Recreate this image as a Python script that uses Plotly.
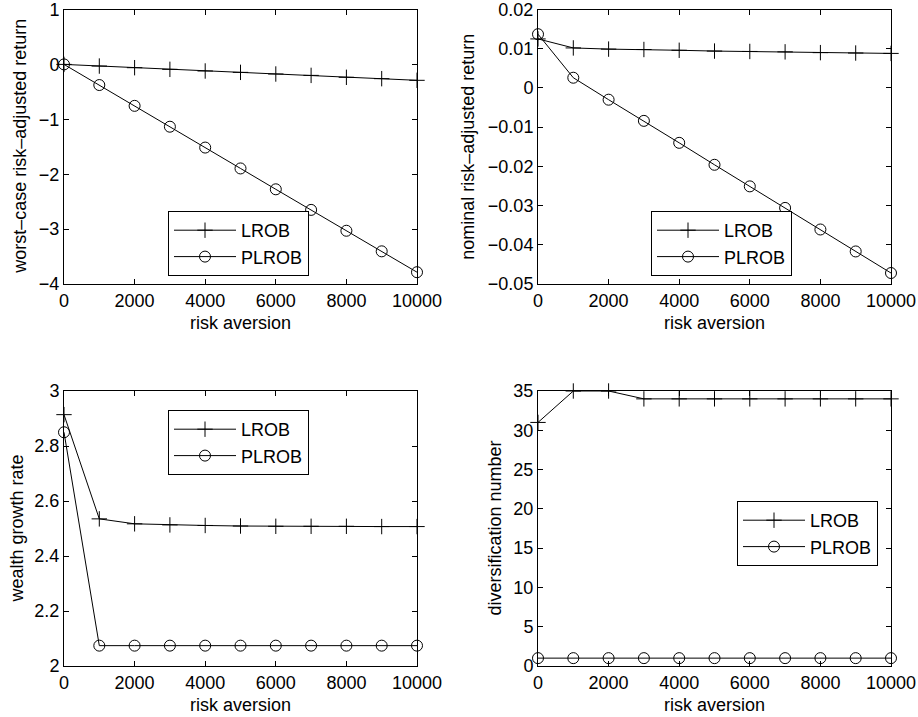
import plotly.graph_objects as go

risk_aversion = [0, 1000, 2000, 3000, 4000, 5000, 6000, 7000, 8000, 9000, 10000]

worst_lrob = [0, -0.03, -0.06, -0.09, -0.12, -0.145, -0.175, -0.20, -0.235, -0.26, -0.29]
worst_plrob = [0, -0.376, -0.755, -1.135, -1.515, -1.895, -2.275, -2.65, -3.03, -3.405, -3.785]

nominal_lrob = [0.0125, 0.0102, 0.0099, 0.0098, 0.0096, 0.0094, 0.0093, 0.0092, 0.0090, 0.0089, 0.0088]
nominal_plrob = [0.0137, 0.0026, -0.0030, -0.0084, -0.0140, -0.0196, -0.0251, -0.0306, -0.0361, -0.0417, -0.0472]

growth_lrob = [2.914, 2.535, 2.517, 2.513, 2.511, 2.509, 2.508, 2.508, 2.508, 2.507, 2.507]
growth_plrob = [2.85, 2.074, 2.074, 2.074, 2.074, 2.074, 2.074, 2.074, 2.074, 2.074, 2.074]

divers_lrob = [31, 35, 35, 34, 34, 34, 34, 34, 34, 34, 34]
divers_plrob = [1, 1, 1, 1, 1, 1, 1, 1, 1, 1, 1]

y_titles = ["worst–case risk–adjusted return", "nominal risk–adjusted return",
            "wealth growth rate", "diversification number"]
x_title = "risk aversion"

FONT = "Liberation Sans, Arial, sans-serif"
W, H = 918, 717
fig = go.Figure()

panels = [
    (worst_lrob, worst_plrob, [-4, 1], 1),
    (nominal_lrob, nominal_plrob, [-0.05, 0.02], 0.01),
    (growth_lrob, growth_plrob, [2, 3], 0.2),
    (divers_lrob, divers_plrob, [0, 35], 5),
]

xpix = [(64, 417), (538, 891)]
ypix = [(9.5, 284), (391, 666)]
xdom = [[a / W, b / W] for a, b in xpix]
ydom = [[1 - b / H, 1 - a / H] for a, b in ypix]
legpos = [(168, 211), (651, 211), (168, 410), (737, 501)]
ytitle_x = [20, 468, 16, 494]
xtitle_y = [323, 323, 705, 705]

layout = dict(
    width=W, height=H, margin=dict(l=0, r=0, t=0, b=0, autoexpand=False),
    paper_bgcolor="white", plot_bgcolor="white",
    font=dict(family=FONT, size=18, color="black"),
    showlegend=True,
)

annotations = []
for i, (lr, pl, yr, dt) in enumerate(panels):
    n = i + 1
    xa = "x" if n == 1 else f"x{n}"
    ya = "y" if n == 1 else f"y{n}"
    leg = "legend" if n == 1 else f"legend{n}"
    fig.add_trace(go.Scatter(x=risk_aversion, y=lr, mode="lines+markers", name="LROB",
                             xaxis=xa, yaxis=ya, legend=leg, cliponaxis=False,
                             line=dict(color="black", width=1),
                             marker=dict(symbol="cross-thin-open", size=11, color="black",
                                         line=dict(color="black", width=1))))
    fig.add_trace(go.Scatter(x=risk_aversion, y=pl, mode="lines+markers", name="PLROB",
                             xaxis=xa, yaxis=ya, legend=leg, cliponaxis=False,
                             line=dict(color="black", width=1),
                             marker=dict(symbol="circle-open", size=11, color="black",
                                         line=dict(color="black", width=1))))
    r, c = divmod(i, 2)
    axcommon = dict(showline=True, linecolor="black", linewidth=1, mirror="allticks",
                    ticks="inside", ticklen=5, tickcolor="black", showgrid=False,
                    zeroline=False, automargin=False, ticklabeloverflow="allow",
                    tickfont=dict(family=FONT, size=18, color="black"))
    layout["xaxis" if n == 1 else f"xaxis{n}"] = dict(
        domain=xdom[c], range=[0, 10000], dtick=2000, tick0=0, tickformat="d",
        anchor=ya, **axcommon)
    layout["yaxis" if n == 1 else f"yaxis{n}"] = dict(
        domain=ydom[r], range=yr, dtick=dt, tick0=yr[0],
        anchor=xa, **axcommon)
    lx, ly = legpos[i]
    layout[leg] = dict(x=lx / W, y=1 - ly / H, xanchor="left", yanchor="top",
                       bordercolor="black", borderwidth=1, bgcolor="white", itemwidth=62,
                       font=dict(family=FONT, size=18, color="black"), tracegroupgap=0)
    yc = (ypix[r][0] + ypix[r][1]) / 2
    annotations.append(dict(text=y_titles[i], x=ytitle_x[i] / W, y=1 - yc / H,
                            xref="paper", yref="paper", textangle=-90, showarrow=False,
                            xanchor="center", yanchor="middle",
                            font=dict(family=FONT, size=18, color="black")))
    xc = (xpix[c][0] + xpix[c][1]) / 2
    annotations.append(dict(text=x_title, x=xc / W, y=1 - xtitle_y[i] / H,
                            xref="paper", yref="paper", showarrow=False,
                            xanchor="center", yanchor="middle",
                            font=dict(family=FONT, size=18, color="black")))

layout["annotations"] = annotations
fig.update_layout(**layout)
fig.write_html("out.html", config={"displayModeBar": False},
               post_script="document.body.style.margin='0';")
